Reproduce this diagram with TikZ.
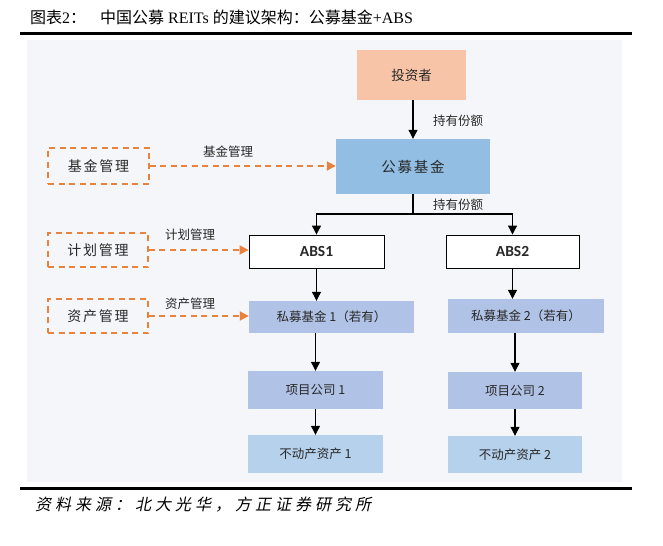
\documentclass[tikz,border=0pt]{standalone}
\usepackage{fontspec}
\setmainfont{Liberation Serif}
\newfontfamily\cjk{Noto Sans CJK SC}
\newfontfamily\cjksp{Noto Sans CJK SC}[LetterSpace=12]
\newfontfamily\cjkit{Noto Sans CJK SC}[FakeSlant=0.2,LetterSpace=25]
\newfontfamily\absfont{Carlito}
\usetikzlibrary{arrows.meta}
\definecolor{bgc}{RGB}{244,246,249}
\definecolor{salmon}{RGB}{248,196,167}
\definecolor{pubblue}{RGB}{146,190,228}
\definecolor{lav}{RGB}{176,194,229}
\definecolor{skyb}{RGB}{182,209,236}
\definecolor{orng}{RGB}{233,130,60}
\definecolor{txt}{RGB}{40,40,40}
\tikzset{
  box/.style={draw=none, inner sep=0pt, text=txt, align=center},
  absbox/.style={draw=black, line width=0.9bp, fill=white, inner sep=0pt, text=txt},
  mgbox/.style={draw=orng, line width=1.8bp, dash pattern=on 6bp off 4.5bp, inner sep=0pt, text=txt, fill=none},
  arr/.style={draw=black, line width=1.1bp, -{Triangle[length=9bp,width=9bp]}},
  plain/.style={draw=black, line width=1.1bp},
  oarr/.style={draw=orng, line width=1.8bp, dash pattern=on 6bp off 4.5bp, -{Triangle[length=9bp,width=9bp,fill=orng]}},
  lbl/.style={inner sep=0pt, text=txt, font=\cjk\fontsize{12.5bp}{14bp}\selectfont},
  smtxt/.style={font=\cjk\fontsize{12.5bp}{15bp}\selectfont},
}
\begin{document}
\begin{tikzpicture}[x=1bp,y=-1bp]
\useasboundingbox (0,0) rectangle (663,546);
% background panel
\fill[bgc] (27,40) rectangle (622,482);
% title and rules
\node[anchor=west, inner sep=0pt] (title) at (30,17.5) {\fontsize{16bp}{18bp}\selectfont{\cjk 图表}2{\cjk ：}\hspace{14bp}{\cjk 中国公募} REITs {\cjk 的建议架构：公募基金}+ABS};
\draw[line width=3bp] (20,34) -- (632,34);
\draw[line width=3bp] (20,488) -- (632,488);
\node[anchor=west, inner sep=0pt] (src) at (35,505) {\cjkit\fontsize{16bp}{18bp}\selectfont 资料来源：北大光华，方正证券研究所};

% main boxes
\node[box, fill=salmon, minimum width=109bp, minimum height=50bp, font=\cjk\fontsize{13.5bp}{16bp}\selectfont] (inv) at (411.5,75) {投资者};
\node[box, fill=pubblue, minimum width=154bp, minimum height=55bp, font=\cjksp\fontsize{14.5bp}{17bp}\selectfont] (gm) at (413,166.5) {公募基金};
\node[absbox, minimum width=135bp, minimum height=33bp, font=\absfont\bfseries\fontsize{15.5bp}{17bp}\selectfont] (abs1) at (316.5,251.5) {ABS1};
\node[absbox, minimum width=133bp, minimum height=33bp, font=\absfont\bfseries\fontsize{15.5bp}{17bp}\selectfont] (abs2) at (512.5,251.5) {ABS2};
\node[box, fill=lav, minimum width=165bp, minimum height=32bp, smtxt] (pf1) at (331.5,317) {私募基金 1（若有）};
\node[box, fill=lav, minimum width=156bp, minimum height=34bp, smtxt] (pf2) at (526,316) {私募基金 2（若有）};
\node[box, fill=lav, minimum width=135bp, minimum height=38bp, smtxt] (pc1) at (315.5,390) {项目公司 1};
\node[box, fill=lav, minimum width=134bp, minimum height=37bp, smtxt] (pc2) at (515,390.5) {项目公司 2};
\node[box, fill=skyb, minimum width=135bp, minimum height=38bp, smtxt] (ra1) at (315.5,454) {不动产资产 1};
\node[box, fill=skyb, minimum width=134bp, minimum height=37bp, smtxt] (ra2) at (515,454.5) {不动产资产 2};

% management boxes
\node[mgbox, minimum width=101bp, minimum height=36bp, font=\cjksp\fontsize{14bp}{16bp}\selectfont] (jm) at (98.5,166) {基金管理};
\node[mgbox, minimum width=100bp, minimum height=34bp, font=\cjksp\fontsize{14bp}{16bp}\selectfont] (hm) at (98,250) {计划管理};
\node[mgbox, minimum width=100bp, minimum height=34bp, font=\cjksp\fontsize{14bp}{16bp}\selectfont] (zm) at (98,316) {资产管理};

% labels
\node[lbl] (l1) at (458,121) {持有份额};
\node[lbl] (l2) at (458,205) {持有份额};
\node[lbl] (l3) at (228,152) {基金管理};
\node[lbl] (l4) at (190,235) {计划管理};
\node[lbl] (l5) at (190,304) {资产管理};

% black connectors
\draw[arr] (inv.south -| gm) -- (gm.north);
\coordinate (sp) at (413,214);
\draw[plain] (gm.south) -- (sp);
\draw[arr] (sp) -| (abs1.north);
\draw[arr] (sp) -| (abs2.north);
\draw[arr] (abs1.south) -- (abs1.south |- pf1.north);
\draw[arr] (abs2.south) -- (abs2.south |- pf2.north);
\draw[arr] (pc1.north |- pf1.south) -- (pc1.north);
\draw[arr] (pc2.north |- pf2.south) -- (pc2.north);
\draw[arr] (pc1.south) -- (ra1.north);
\draw[arr] (pc2.south) -- (ra2.north);

% orange dashed connectors
\draw[oarr] (jm.east) -- (jm.east -| gm.west);
\draw[oarr] (hm.east) -- (hm.east -| abs1.west);
\draw[oarr] (zm.east) -- (zm.east -| pf1.west);
\end{tikzpicture}
\end{document}
